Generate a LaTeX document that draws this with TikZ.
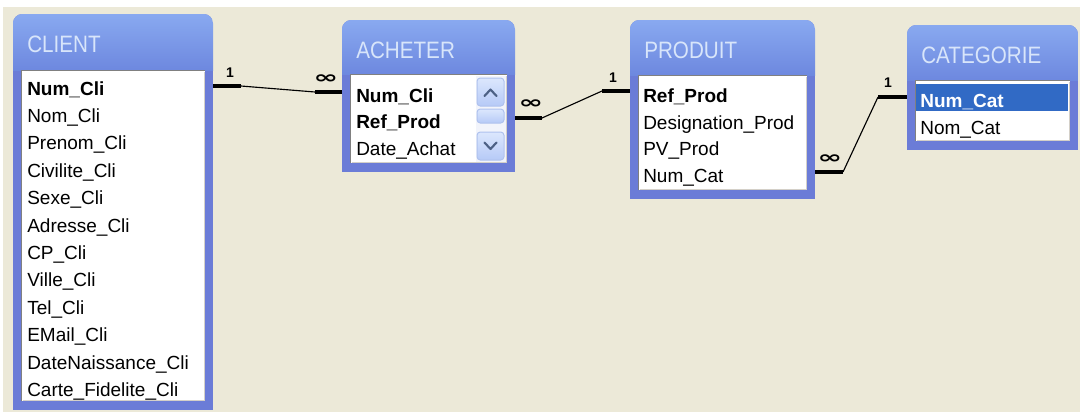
\documentclass[tikz,border=0pt]{standalone}
\usepackage{fontspec}
\setmainfont{Liberation Sans}
\newfontfamily\symfont{DejaVu Sans}
\definecolor{bg}{HTML}{ECE9D8}
\definecolor{frameblue}{HTML}{6B7CD7}
\definecolor{hdtop}{HTML}{89A9F0}
\definecolor{hdbot}{HTML}{6D88DF}
\definecolor{titlec}{HTML}{D8E5FA}
\definecolor{innerdark}{HTML}{808080}
\definecolor{innerlight}{HTML}{D4D0C8}
\definecolor{selblue}{HTML}{316AC5}
\definecolor{btntop}{HTML}{DCE7FD}
\definecolor{btnbot}{HTML}{B6CAF7}
\definecolor{btnedge}{HTML}{AFC2EE}
\definecolor{arrowc}{HTML}{4D6185}
\definecolor{trackc}{HTML}{F2F4FB}
\tikzset{
  row/.style={anchor=base west,inner sep=0pt,text=black,font=\fontsize{14.25}{16}\selectfont},
  keyrow/.style={row,font=\fontsize{14.25}{16}\selectfont\bfseries},
  ttl/.style={anchor=base west,inner sep=0pt,text=titlec,font=\fontsize{17.8}{20}\selectfont},
  stub/.style={line width=3pt},
  link/.style={line width=0.85pt},
  one/.style={inner sep=0pt,font=\bfseries\fontsize{10.5}{11}\selectfont},
  many/.style={inner sep=0pt,font=\symfont\bfseries\fontsize{13}{13}\selectfont},
  btn/.style={top color=btntop,bottom color=btnbot,draw=btnedge,line width=0.75pt,rounded corners=2.5pt},
  chev/.style={draw=arrowc,line width=1.6pt,line cap=round,line join=round},
}
\newcommand\dbtab[7]{%
  \begin{scope}
    \clip[rounded corners=7pt] (#2,#3) rectangle (#4,#5+20);
    \fill[frameblue] (#2,#3) rectangle (#4,#5);
    \shade[top color=hdtop,bottom color=hdbot] (#2,#3) rectangle (#4,#6);
  \end{scope}
  \fill[white] (#2+8,#6) rectangle (#4-8,#5-9);
  \draw[innerdark,line width=0.75pt] (#2+8.5,#5-9) |- (#4-8,#6+0.5);
  \draw[innerlight,line width=0.75pt] (#2+9.5,#5-9.5) -| (#4-8.5,#6+1.5);
  \node[ttl] (#1-title) at (#2+14,#3+38.5) {\scalebox{0.87}[1]{#7}};
}
\newcommand\manylabel{\scalebox{1.7}[1]{∞}}
\begin{document}
\begin{tikzpicture}[x=0.75pt,y=-0.75pt]
\useasboundingbox (0,0) rectangle (1080,412);
\fill[white] (0,0) rectangle (1080,412);
\fill[bg] (3,7) rectangle (1080,412);

% ---------- CLIENT ----------
\dbtab{client}{13}{14}{213}{410}{70}{CLIENT}
\node[keyrow] (client-r0) at (27,95) {Num\_Cli};
\foreach \t [count=\i] in {Nom\_Cli,Prenom\_Cli,Civilite\_Cli,Sexe\_Cli,Adresse\_Cli,CP\_Cli,Ville\_Cli,Tel\_Cli,EMail\_Cli,DateNaissance\_Cli,Carte\_Fidelite\_Cli}
  \node[row] (client-r\i) at (27,95+27.4*\i) {\t};

% ---------- ACHETER ----------
\dbtab{acheter}{342}{20}{515}{172}{74}{ACHETER}
\node[keyrow] (acheter-r0) at (356,102) {Num\_Cli};
\node[keyrow] (acheter-r1) at (356,128) {Ref\_Prod};
\node[row] (acheter-r2) at (356,155) {Date\_Achat};
\fill[trackc] (476,76) rectangle (506,162);
\path[btn] (477,78) rectangle (504,106);
\draw[chev] (484.5,96) -- (490.5,89.5) -- (496.5,96);
\path[btn] (477,109) rectangle (504,123);
\path[btn] (477,132) rectangle (504,160);
\draw[chev] (484.5,142.5) -- (490.5,149) -- (496.5,142.5);

% ---------- PRODUIT ----------
\dbtab{produit}{630}{20}{815}{199}{75}{PRODUIT}
\node[keyrow] (produit-r0) at (643,102) {Ref\_Prod};
\node[row] (produit-r1) at (643,129) {Designation\_Prod};
\node[row] (produit-r2) at (643,155) {PV\_Prod};
\node[row] (produit-r3) at (643,182) {Num\_Cat};

% ---------- CATEGORIE ----------
\dbtab{categorie}{907}{25}{1078}{150}{80}{CATEGORIE}
\fill[selblue] (916,84) rectangle (1068,111);
\node[keyrow,text=white] (categorie-r0) at (920,107) {Num\_Cat};
\node[row] (categorie-r1) at (920,134) {Nom\_Cat};

% ---------- relations ----------
\coordinate (r1a) at (213,86);  \coordinate (r1b) at (241,86);
\coordinate (r1c) at (315,92);  \coordinate (r1d) at (342,92);
\draw[stub] (r1a) -- (r1b);
\draw[link] (r1b) -- (r1c);
\draw[stub] (r1c) -- (r1d);
\node[one] (r1one) at (230,73) {1};
\node[many] (r1many) at (326,79) {\manylabel};

\coordinate (r2a) at (515,118); \coordinate (r2b) at (542,118);
\coordinate (r2c) at (602,91);  \coordinate (r2d) at (630,91);
\draw[stub] (r2a) -- (r2b);
\draw[link] (r2b) -- (r2c);
\draw[stub] (r2c) -- (r2d);
\node[many] (r2many) at (531,104) {\manylabel};
\node[one] (r2one) at (613,78) {1};

\coordinate (r3a) at (815,172); \coordinate (r3b) at (843,172);
\coordinate (r3c) at (878,97);  \coordinate (r3d) at (907,97);
\draw[stub] (r3a) -- (r3b);
\draw[link] (r3b) -- (r3c);
\draw[stub] (r3c) -- (r3d);
\node[many] (r3many) at (830,159) {\manylabel};
\node[one] (r3one) at (888,83) {1};
\end{tikzpicture}
\end{document}
